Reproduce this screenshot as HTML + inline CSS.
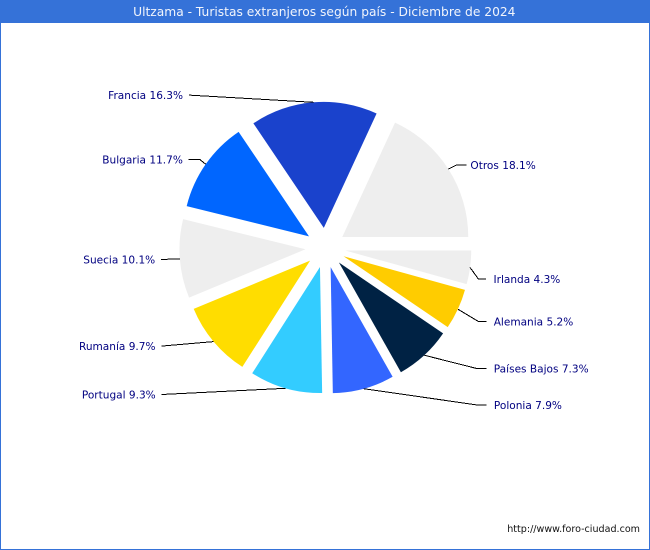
<!DOCTYPE html>
<html lang="es">
<head>
<meta charset="utf-8">
<title>Ultzama - Turistas extranjeros según país - Diciembre de 2024</title>
<style>
  html, body { margin: 0; padding: 0; background: #fff; }
  #chart-frame { position: relative; width: 650px; height: 550px; overflow: hidden; }
  svg { display: block; }
  text { font-family: "DejaVu Sans", "Liberation Sans", sans-serif; }
</style>
</head>
<body>
<div id="chart-frame">
<svg id="chart" width="650" height="550" viewBox="0 0 650 550" xmlns="http://www.w3.org/2000/svg">
  <rect x="0.5" y="0.5" width="649" height="549" fill="#ffffff" stroke="#3572d8" stroke-width="1"></rect>
  <rect x="0" y="0" width="650" height="23" fill="#3572d8"></rect>
  <text x="324.3" y="16" text-anchor="middle" font-size="12.27" fill="#f2f5fc">Ultzama - Turistas extranjeros según país - Diciembre de 2024</text>
  <g id="slices"></g>
  <g id="leaders"></g>
  <g id="labels"></g>
  <text x="640" y="532" text-anchor="end" font-size="9.57" fill="#111111">http://www.foro-ciudad.com</text>
</svg>
</div>
<script>
const categories = ["Otros", "Francia", "Bulgaria", "Suecia", "Rumanía", "Portugal", "Polonia", "Países Bajos", "Alemania", "Irlanda"];
const shares = [18.1, 16.3, 11.7, 10.1, 9.7, 9.3, 7.9, 7.3, 5.2, 4.3];
const sliceColors = ["#eeeeee", "#1a42cc", "#0066ff", "#eeeeee", "#ffdd00", "#33ccff", "#3366ff", "#002244", "#ffcc00", "#eeeeee"];

function drawPie() {
  const NS = "http://www.w3.org/2000/svg";
  const cx = 325.4, cy = 247.8, radius = 126, explode = 20;
  // Layout only: where each label's leader line starts, relative to its slice's arc midpoint.
  const labelNudge = [[18.2, -4.2], [-124.9, -7.2], [-17, -4.8], [-18.8, 0.7], [-52.3, 4.5], [-124.2, 6.2], [122.9, 16.2], [62.3, 13.5], [28.5, 12.3], [16.1, 11.3]];
  const elbow = [10, 0, 11, 0, 0, 0, 10, 9, 8, 8];
  const labelGap = [3.8, 5.8, 5.8, 5.8, 5.8, 5.8, 7.3, 7.3, 7.3, 7.3];

  const slicesG = document.getElementById("slices");
  const leadersG = document.getElementById("leaders");
  const labelsG = document.getElementById("labels");
  const total = shares.reduce(function (a, b) { return a + b; }, 0);
  const toAngle = function (v) { return v / total * 2 * Math.PI; };
  const polar = function (ox, oy, r, a) { return [ox + r * Math.cos(a), oy - r * Math.sin(a)]; };

  let cumulative = 0;
  shares.forEach(function (value, i) {
    const a0 = toAngle(cumulative);
    const a1 = toAngle(cumulative + value);
    const mid = (a0 + a1) / 2;
    cumulative += value;

    const apex = polar(cx, cy, explode, mid);
    const p0 = polar(apex[0], apex[1], radius, a0);
    const p1 = polar(apex[0], apex[1], radius, a1);
    const large = (a1 - a0) > Math.PI ? 1 : 0;

    const path = document.createElementNS(NS, "path");
    path.setAttribute("d", "M" + apex[0].toFixed(2) + " " + apex[1].toFixed(2) +
      "L" + p0[0].toFixed(2) + " " + p0[1].toFixed(2) +
      "A" + radius + " " + radius + " 0 " + large + " 0 " + p1[0].toFixed(2) + " " + p1[1].toFixed(2) + "Z");
    path.setAttribute("fill", sliceColors[i]);
    
    
    slicesG.appendChild(path);

    const arc = polar(apex[0], apex[1], radius, mid);
    const tail = [arc[0] + labelNudge[i][0], arc[1] + labelNudge[i][1]];
    const onRight = tail[0] > arc[0];
    const knee = [tail[0] + (onRight ? -elbow[i] : elbow[i]), tail[1]];

    const line = document.createElementNS(NS, "polyline");
    line.setAttribute("points", tail[0].toFixed(1) + "," + tail[1].toFixed(1) + " " + knee[0].toFixed(1) + "," + knee[1].toFixed(1) + " " + arc[0].toFixed(1) + "," + arc[1].toFixed(1));
    line.setAttribute("fill", "none");
    line.setAttribute("stroke", "#000000");
    line.setAttribute("stroke-width", "1");
    line.setAttribute("shape-rendering", "crispEdges");
    
    
    leadersG.appendChild(line);

    const label = document.createElementNS(NS, "text");
    label.setAttribute("x", (tail[0] + (onRight ? labelGap[i] : -labelGap[i])).toFixed(1));
    label.setAttribute("y", (tail[1] + 4).toFixed(1));
    label.setAttribute("text-anchor", onRight ? "start" : "end");
    label.setAttribute("font-size", "10.55");
    label.setAttribute("fill", "#000080");
    
    
    label.textContent = categories[i] + " " + value.toFixed(1) + "%";
    labelsG.appendChild(label);
  });
}
drawPie();
</script>
</body>
</html>
